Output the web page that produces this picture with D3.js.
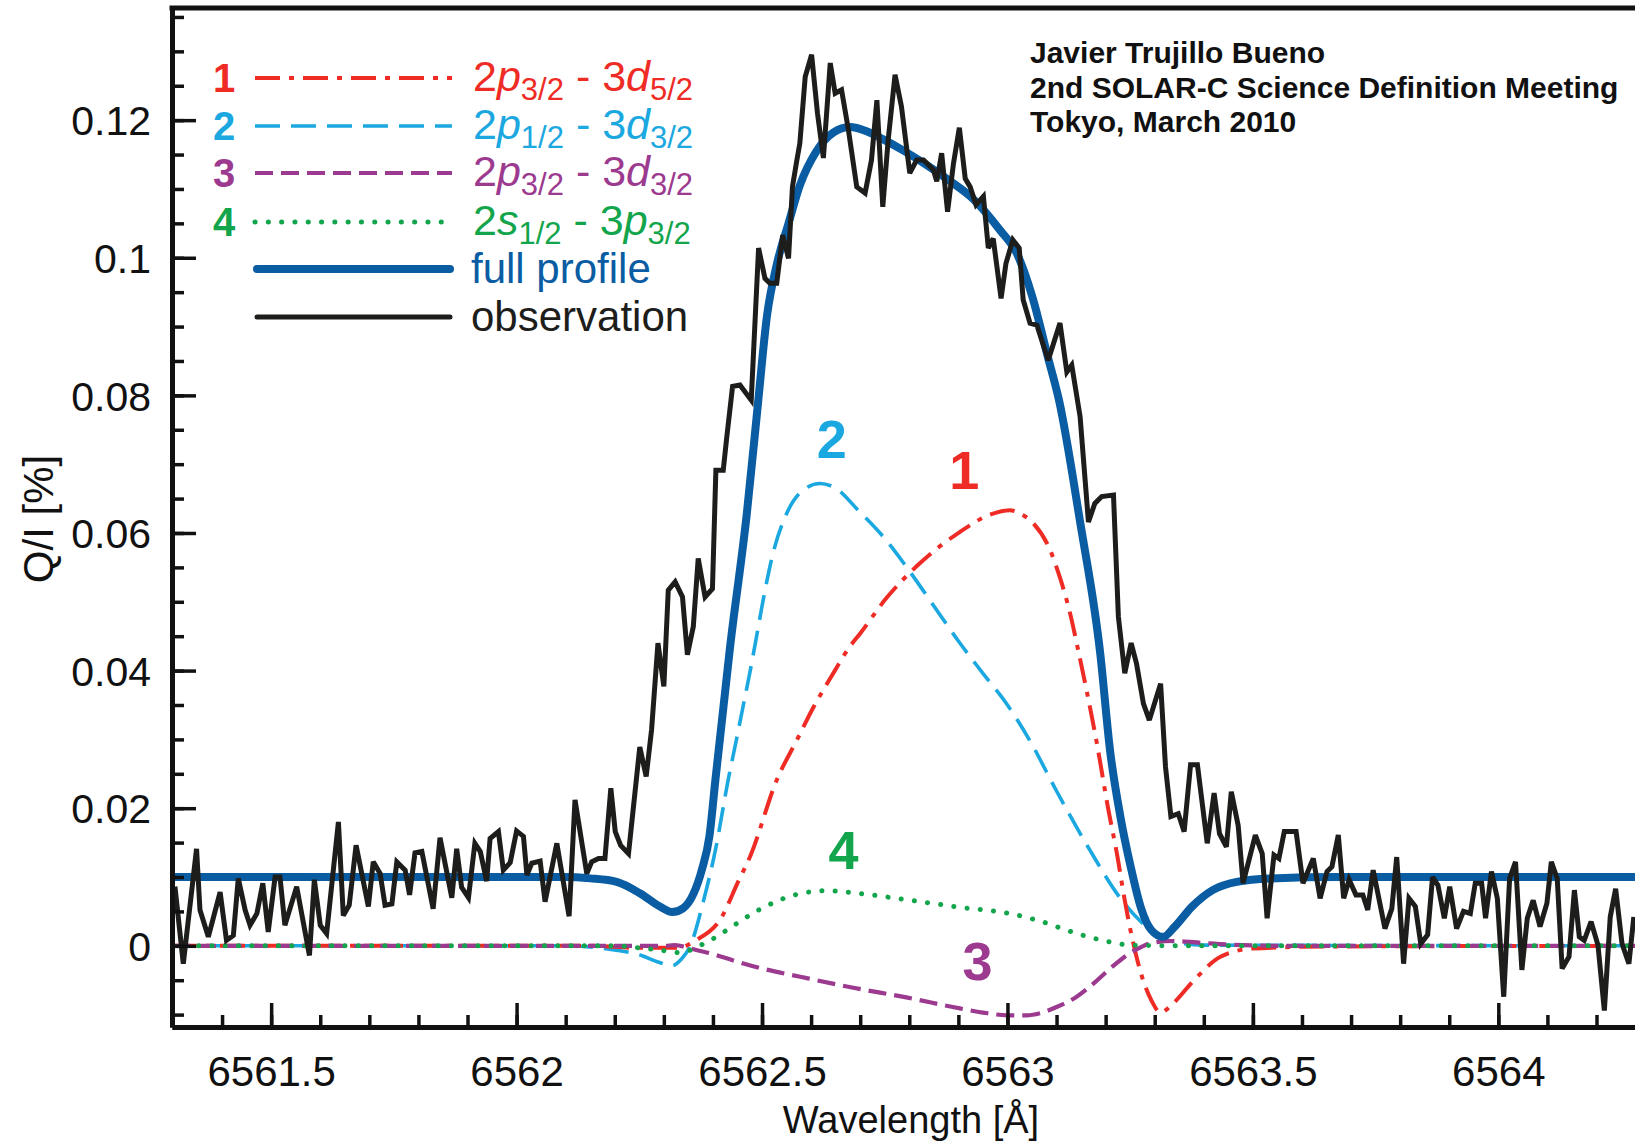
<!DOCTYPE html>
<html>
<head>
<meta charset="utf-8">
<script src="https://cdn.jsdelivr.net/npm/d3@7"></script>
<style>
  body { margin: 0; background: #fff; }
  svg { display: block; }
  text { font-family: "Liberation Sans", Arial, Helvetica, sans-serif; }
</style>
</head>
<body>
<div id="chart"></div>
<script>
// ---- data: [wavelength (A), Q/I (%)] ----
var observation = [
  [6561.304,0.0086],[6561.321,-0.0026],[6561.348,0.0141],[6561.355,0.0052],[6561.372,0.0013],[6561.396,0.0078],
  [6561.409,0.0008],[6561.423,0.0015],[6561.433,0.0098],[6561.447,0.0052],[6561.457,0.0030],[6561.471,0.0047],
  [6561.483,0.0091],[6561.494,0.0020],[6561.508,0.0100],[6561.518,0.0100],[6561.528,0.0030],[6561.552,0.0086],
  [6561.578,-0.0014],[6561.588,0.0096],[6561.600,0.0030],[6561.613,0.0018],[6561.637,0.0180],[6561.647,0.0044],
  [6561.659,0.0059],[6561.673,0.0146],[6561.698,0.0057],[6561.708,0.0122],[6561.722,0.0105],[6561.732,0.0059],
  [6561.746,0.0061],[6561.756,0.0122],[6561.773,0.0110],[6561.782,0.0074],[6561.793,0.0135],[6561.807,0.0137],
  [6561.830,0.0054],[6561.844,0.0157],[6561.868,0.0070],[6561.878,0.0141],[6561.888,0.0085],[6561.902,0.0070],
  [6561.915,0.0149],[6561.926,0.0137],[6561.939,0.0094],[6561.946,0.0156],[6561.963,0.0166],[6561.973,0.0110],
  [6561.987,0.0121],[6562.000,0.0167],[6562.014,0.0159],[6562.021,0.0103],[6562.031,0.0120],[6562.048,0.0123],
  [6562.058,0.0064],[6562.082,0.0149],[6562.107,0.0043],[6562.119,0.0212],[6562.143,0.0105],[6562.153,0.0122],
  [6562.167,0.0127],[6562.180,0.0127],[6562.192,0.0229],[6562.201,0.0166],[6562.212,0.0146],[6562.228,0.0134],
  [6562.251,0.0289],[6562.264,0.0246],[6562.275,0.0314],[6562.288,0.0440],[6562.300,0.0377],[6562.309,0.0517],
  [6562.323,0.0529],[6562.338,0.0507],[6562.348,0.0423],[6562.360,0.0464],[6562.370,0.0563],[6562.384,0.0507],
  [6562.399,0.0519],[6562.406,0.0691],[6562.421,0.0691],[6562.428,0.0738],[6562.440,0.0813],[6562.455,0.0815],
  [6562.478,0.0793],[6562.493,0.1014],[6562.506,0.0970],[6562.516,0.0963],[6562.530,0.0963],[6562.542,0.1033],
  [6562.554,0.0999],[6562.562,0.1103],[6562.571,0.1142],[6562.577,0.1166],[6562.588,0.1263],[6562.601,0.1295],
  [6562.613,0.1210],[6562.625,0.1145],[6562.639,0.1283],[6562.649,0.1239],[6562.662,0.1244],[6562.676,0.1186],
  [6562.693,0.1103],[6562.710,0.1094],[6562.723,0.1142],[6562.734,0.1229],[6562.746,0.1074],[6562.757,0.1171],
  [6562.771,0.1266],[6562.784,0.1220],[6562.801,0.1123],[6562.815,0.1142],[6562.829,0.1142],[6562.849,0.1128],
  [6562.856,0.1111],[6562.866,0.1152],[6562.878,0.1067],[6562.890,0.1137],[6562.902,0.1189],[6562.914,0.1115],
  [6562.924,0.1103],[6562.936,0.1077],[6562.951,0.1089],[6562.961,0.1014],[6562.971,0.1028],[6562.987,0.0941],
  [6562.997,0.0992],[6563.011,0.1026],[6563.024,0.1014],[6563.032,0.0939],[6563.046,0.0905],[6563.060,0.0902],
  [6563.083,0.0851],[6563.107,0.0905],[6563.121,0.0834],[6563.131,0.0844],[6563.148,0.0769],[6563.165,0.0616],
  [6563.178,0.0643],[6563.192,0.0653],[6563.216,0.0655],[6563.226,0.0478],[6563.239,0.0396],[6563.252,0.0440],
  [6563.263,0.0410],[6563.277,0.0352],[6563.289,0.0328],[6563.312,0.0381],[6563.322,0.0260],[6563.333,0.0188],
  [6563.348,0.0192],[6563.360,0.0166],[6563.373,0.0263],[6563.387,0.0263],[6563.407,0.0149],[6563.421,0.0222],
  [6563.432,0.0163],[6563.446,0.0144],[6563.456,0.0224],[6563.470,0.0175],[6563.480,0.0091],[6563.505,0.0161],
  [6563.519,0.0134],[6563.529,0.0040],[6563.543,0.0132],[6563.553,0.0127],[6563.564,0.0166],[6563.588,0.0166],
  [6563.602,0.0091],[6563.623,0.0127],[6563.637,0.0069],[6563.651,0.0108],[6563.661,0.0115],[6563.674,0.0161],
  [6563.685,0.0069],[6563.696,0.0096],[6563.710,0.0074],[6563.724,0.0074],[6563.734,0.0052],[6563.745,0.0110],
  [6563.769,0.0025],[6563.783,0.0054],[6563.793,0.0129],[6563.807,-0.0026],[6563.818,0.0069],[6563.831,0.0057],
  [6563.842,0.0003],[6563.856,0.0016],[6563.866,0.0100],[6563.877,0.0088],[6563.890,0.0040],[6563.901,0.0086],
  [6563.915,0.0025],[6563.929,0.0050],[6563.943,0.0047],[6563.953,0.0091],[6563.966,0.0091],[6563.974,0.0040],
  [6563.986,0.0108],[6563.998,0.0069],[6564.011,-0.0074],[6564.023,0.0098],[6564.035,0.0122],[6564.048,-0.0035],
  [6564.059,0.0040],[6564.071,0.0066],[6564.085,0.0028],[6564.099,0.0062],[6564.108,0.0122],[6564.120,0.0098],
  [6564.130,-0.0033],[6564.144,-0.0016],[6564.155,0.0081],[6564.165,0.0013],[6564.175,0.0008],[6564.189,0.0035],
  [6564.203,0.0001],[6564.216,-0.0094],[6564.228,0.0042],[6564.239,0.0083],[6564.252,0.0003],[6564.266,-0.0026],
  [6564.276,0.0042]
];

var fullProfile = [
  [6561.298,0.0100],[6562.100,0.0100],[6562.150,0.0098],[6562.204,0.0093],[6562.252,0.0076],[6562.292,0.0057],
  [6562.317,0.0049],[6562.340,0.0055],[6562.360,0.0075],[6562.378,0.0112],[6562.393,0.0160],[6562.405,0.0241],
  [6562.435,0.0435],[6562.469,0.0628],[6562.492,0.0790],[6562.510,0.0915],[6562.530,0.0990],[6562.554,0.1050],
  [6562.577,0.1105],[6562.611,0.1155],[6562.645,0.1182],[6562.679,0.1190],[6562.713,0.1184],[6562.747,0.1172],
  [6562.790,0.1155],[6562.835,0.1135],[6562.880,0.1113],[6562.931,0.1085],[6562.985,0.1040],[6563.020,0.1005],
  [6563.050,0.0945],[6563.083,0.0854],[6563.105,0.0793],[6563.148,0.0616],[6563.189,0.0425],[6563.209,0.0284],
  [6563.230,0.0188],[6563.251,0.0115],[6563.272,0.0055],[6563.293,0.0023],[6563.317,0.0013],[6563.341,0.0028],
  [6563.376,0.0057],[6563.418,0.0081],[6563.467,0.0093],[6563.536,0.0098],[6563.675,0.0100],[6564.309,0.0100]
];

// 1: 2p3/2 - 3d5/2
var line1 = [
  [6561.298,0],[6562.150,0],[6562.250,-0.0003],[6562.330,-0.0003],[6562.365,0.0008],[6562.418,0.0042],
  [6562.450,0.0091],[6562.477,0.0132],[6562.530,0.0241],[6562.571,0.0299],[6562.605,0.0347],[6562.645,0.0396],
  [6562.679,0.0435],[6562.700,0.0454],[6562.753,0.0505],[6562.817,0.0553],[6562.902,0.0601],[6562.966,0.0627],
  [6563.005,0.0633],[6563.026,0.0628],[6563.053,0.0614],[6563.087,0.0575],[6563.107,0.0535],[6563.127,0.0485],
  [6563.144,0.0430],[6563.161,0.0372],[6563.182,0.0295],[6563.205,0.0200],[6563.223,0.0134],[6563.239,0.0066],
  [6563.255,0.0008],[6563.272,-0.0040],[6563.293,-0.0079],[6563.312,-0.0097],[6563.337,-0.0084],[6563.380,-0.0050],
  [6563.434,-0.0016],[6563.499,-0.0004],[6563.650,-0.0001],[6564.309,0]
];
// 2: 2p1/2 - 3d3/2
var line2 = [
  [6561.298,0],[6562.100,0],[6562.200,-0.0006],[6562.250,-0.0013],[6562.290,-0.0024],[6562.317,-0.0029],
  [6562.335,-0.0020],[6562.354,0.0000],[6562.381,0.0066],[6562.405,0.0139],[6562.431,0.0241],[6562.448,0.0300],
  [6562.462,0.0350],[6562.476,0.0400],[6562.489,0.0450],[6562.503,0.0505],[6562.523,0.0572],[6562.550,0.0628],
  [6562.580,0.0660],[6562.618,0.0672],[6562.650,0.0665],[6562.696,0.0633],[6562.750,0.0592],[6562.800,0.0545],
  [6562.850,0.0494],[6562.900,0.0443],[6562.950,0.0396],[6563.000,0.0350],[6563.045,0.0299],[6563.100,0.0225],
  [6563.168,0.0139],[6563.228,0.0071],[6563.272,0.0035],[6563.326,0.0008],[6563.400,0.0001],[6564.309,0]
];
// 3: 2p3/2 - 3d3/2
var line3 = [
  [6561.298,0],[6562.300,0],[6562.322,0.0001],[6562.360,-0.0005],[6562.400,-0.0012],[6562.440,-0.0021],
  [6562.500,-0.0033],[6562.578,-0.0045],[6562.686,-0.0061],[6562.794,-0.0075],[6562.903,-0.0091],[6562.950,-0.0097],
  [6563.000,-0.0101],[6563.040,-0.0101],[6563.066,-0.0098],[6563.100,-0.0089],[6563.141,-0.0074],[6563.175,-0.0055],
  [6563.206,-0.0035],[6563.235,-0.0018],[6563.261,-0.0006],[6563.299,0.0005],[6563.337,0.0007],[6563.400,0.0004],
  [6563.446,0.0002],[6563.550,0],[6564.309,0]
];
// 4: 2s1/2 - 3p3/2
var line4 = [
  [6561.298,0],[6562.200,0],[6562.250,-0.0003],[6562.290,-0.0006],[6562.333,-0.0010],[6562.375,0.0001],
  [6562.407,0.0013],[6562.439,0.0028],[6562.493,0.0052],[6562.567,0.0074],[6562.632,0.0080],[6562.686,0.0077],
  [6562.794,0.0067],[6562.903,0.0056],[6563.011,0.0046],[6563.066,0.0036],[6563.141,0.0018],[6563.206,0.0006],
  [6563.250,0.0001],[6563.350,0],[6564.309,0]
];

var xTicks = [6561.5, 6562, 6562.5, 6563, 6563.5, 6564];
var yTicks = [0, 0.02, 0.04, 0.06, 0.08, 0.1, 0.12];
var transitions = [
  ["2", "p", "3/2", "3", "d", "5/2"],
  ["2", "p", "1/2", "3", "d", "3/2"],
  ["2", "p", "3/2", "3", "d", "3/2"],
  ["2", "s", "1/2", "3", "p", "3/2"]
];
var legendNames = ["full profile", "observation"];
var credits = ["Javier Trujillo Bueno", "2nd SOLAR-C Science Definition Meeting", "Tokyo, March 2010"];

// ---- drawing ----
var width = 1635, height = 1142;
var plot = {left: 172, top: 8, right: 1650, bottom: 1027};

var svg = d3.select("#chart")
  .append("svg")
  .attr("width", width)
  .attr("height", height);

var x = d3.scaleLinear()
  .domain([6561.298, 6564.309])
  .range([plot.left, plot.right]);
var y = d3.scaleLinear()
  .domain([-0.0118, 0.1363])
  .range([plot.bottom, plot.top]);

svg.append("clipPath").attr("id", "clip")
  .append("rect")
  .attr("x", plot.left).attr("y", plot.top)
  .attr("width", plot.right - plot.left).attr("height", plot.bottom - plot.top);

var smooth = d3.line().curve(d3.curveMonotoneX)
  .x(function(d) { return x(d[0]) })
  .y(function(d) { return y(d[1]) });
var straight = d3.line()
  .x(function(d) { return x(d[0]) })
  .y(function(d) { return y(d[1]) });

var styles = [
  {data: line2, color: "#1ba8e0", width: 3.6, dash: "25,11", cap: "butt"},
  {data: line1, color: "#ee2b24", width: 4, dash: "25,9,5,9", cap: "butt"},
  {data: line3, color: "#9c3a8f", width: 4.2, dash: "18,8", cap: "butt"},
  {data: line4, color: "#13a54b", width: 5, dash: "0.1,13.2", cap: "round"}
];
var legendOrder = [1, 0, 2, 3]; // legend rows 1..4 -> styles index

var curves = svg.append("g").attr("clip-path", "url(#clip)");

styles.forEach(function(s) {
  curves.append("path")
    .datum(s.data)
    .attr("d", smooth)
    .attr("fill", "none")
    .attr("stroke", s.color)
    .attr("stroke-width", s.width)
    .attr("stroke-dasharray", s.dash)
    .attr("stroke-linecap", s.cap);
});

curves.append("path")
  .datum(fullProfile)
  .attr("d", smooth)
  .attr("fill", "none")
  .attr("stroke", "#0a5ca3")
  .attr("stroke-width", 8)
  .attr("stroke-linejoin", "round");

curves.append("path")
  .datum(observation)
  .attr("d", straight)
  .attr("fill", "none")
  .attr("stroke", "#1d1d1b")
  .attr("stroke-width", 5)
  .attr("stroke-linejoin", "miter")
  .attr("stroke-miterlimit", 3);

// axes, ticks pointing inward
var xMinor = d3.range(14, 44).map(function(i) { return +(6560 + i * 0.1).toFixed(1) });
var yMinor = d3.range(-2, 28).map(function(i) { return +(i * 0.005).toFixed(3) });

svg.append("g")
  .attr("transform", "translate(0," + plot.bottom + ")")
  .call(d3.axisBottom(x).tickValues(xMinor).tickSize(-12).tickSizeOuter(0).tickFormat(""));
svg.append("g")
  .attr("class", "xaxis")
  .attr("transform", "translate(0," + plot.bottom + ")")
  .call(d3.axisBottom(x).tickValues(xTicks).tickSize(-24).tickSizeOuter(0).tickPadding(29)
    .tickFormat(function(d) { return String(d) }));

svg.append("g")
  .attr("transform", "translate(" + plot.left + ",0)")
  .call(d3.axisLeft(y).tickValues(yMinor).tickSize(-12).tickSizeOuter(0).tickFormat(""));
svg.append("g")
  .attr("class", "yaxis")
  .attr("transform", "translate(" + plot.left + ",0)")
  .call(d3.axisLeft(y).tickValues(yTicks).tickSize(-24).tickSizeOuter(0).tickPadding(21)
    .tickFormat(function(d) { return String(d) }));

svg.selectAll(".tick line").attr("stroke", "#111").attr("stroke-width", 3.5);
svg.selectAll(".domain").attr("stroke", "#111").attr("stroke-width", 5);
svg.selectAll(".xaxis text, .yaxis text")
  .attr("font-family", "'Liberation Sans', Arial, sans-serif")
  .attr("font-size", 41)
  .attr("fill", "#111");
svg.selectAll(".xaxis text").attr("font-size", 42);
svg.selectAll(".yaxis text").attr("dy", "0.36em");

// top frame
svg.append("line")
  .attr("x1", plot.left - 2.5).attr("x2", plot.right)
  .attr("y1", plot.top).attr("y2", plot.top)
  .attr("stroke", "#111").attr("stroke-width", 5);

// axis titles
svg.append("text")
  .attr("x", (plot.left + plot.right) / 2)
  .attr("y", 1133)
  .attr("text-anchor", "middle")
  .attr("font-size", 38)
  .attr("fill", "#111")
  .text("Wavelength [Å]");
svg.append("text")
  .attr("transform", "translate(53,519) rotate(-90)")
  .attr("text-anchor", "middle")
  .attr("font-size", 42)
  .attr("fill", "#111")
  .text("Q/I [%]");

// legend
var rowY = [78, 126, 173, 222, 269, 317];
var legend = svg.append("g");

transitions.forEach(function(t, i) {
  var s = styles[legendOrder[i]];
  legend.append("text")
    .attr("x", 224).attr("y", rowY[i] + 14)
    .attr("text-anchor", "middle")
    .attr("font-size", 40).attr("font-weight", "bold")
    .attr("fill", s.color)
    .text(String(i + 1));
  legend.append("line")
    .attr("x1", 255).attr("x2", 452)
    .attr("y1", rowY[i]).attr("y2", rowY[i])
    .attr("stroke", s.color).attr("stroke-width", s.width)
    .attr("stroke-dasharray", s.dash).attr("stroke-linecap", s.cap);
  var txt = legend.append("text")
    .attr("x", 473).attr("y", rowY[i] + 13)
    .attr("font-size", 43)
    .attr("fill", s.color);
  txt.append("tspan").text(t[0]);
  txt.append("tspan").attr("font-style", "italic").text(t[1]);
  txt.append("tspan").attr("font-size", 31).attr("dy", 9).text(t[2]);
  txt.append("tspan").attr("dy", -9).text(" - " + t[3]);
  txt.append("tspan").attr("font-style", "italic").text(t[4]);
  txt.append("tspan").attr("font-size", 31).attr("dy", 9).text(t[5]);
});

var legendLines = [
  {color: "#0a5ca3", width: 8, cap: "round"},
  {color: "#1d1d1b", width: 5, cap: "round"}
];
legendNames.forEach(function(name, j) {
  var yy = rowY[4 + j];
  legend.append("line")
    .attr("x1", 257).attr("x2", 450)
    .attr("y1", yy).attr("y2", yy)
    .attr("stroke", legendLines[j].color).attr("stroke-width", legendLines[j].width)
    .attr("stroke-linecap", legendLines[j].cap);
  legend.append("text")
    .attr("x", 471).attr("y", yy + 14)
    .attr("font-size", 42)
    .attr("fill", legendLines[j].color)
    .text(name);
});

// curve numbers
var curveLabels = [
  {n: "2", wl: 6562.642, q: 0.0680, s: styles[0]},
  {n: "1", wl: 6562.912, q: 0.0635, s: styles[1]},
  {n: "4", wl: 6562.666, q: 0.0083, s: styles[3]},
  {n: "3", wl: 6562.939, q: -0.0079, s: styles[2]}
];
svg.selectAll(".clabel")
  .data(curveLabels)
  .enter()
  .append("text")
  .attr("class", "clabel")
  .attr("x", function(d) { return x(d.wl) })
  .attr("y", function(d) { return y(d.q) - 20 })
  .attr("text-anchor", "middle")
  .attr("font-size", 54)
  .attr("font-weight", "bold")
  .attr("fill", function(d) { return d.s.color })
  .text(function(d) { return d.n });

// credit note
svg.append("g")
  .selectAll("text")
  .data(credits)
  .enter()
  .append("text")
  .attr("x", 1030)
  .attr("y", function(d, i) { return 63 + i * 34.5 })
  .attr("font-size", 30)
  .attr("font-weight", "bold")
  .attr("fill", "#111")
  .text(function(d) { return d });
</script>
</body>
</html>
